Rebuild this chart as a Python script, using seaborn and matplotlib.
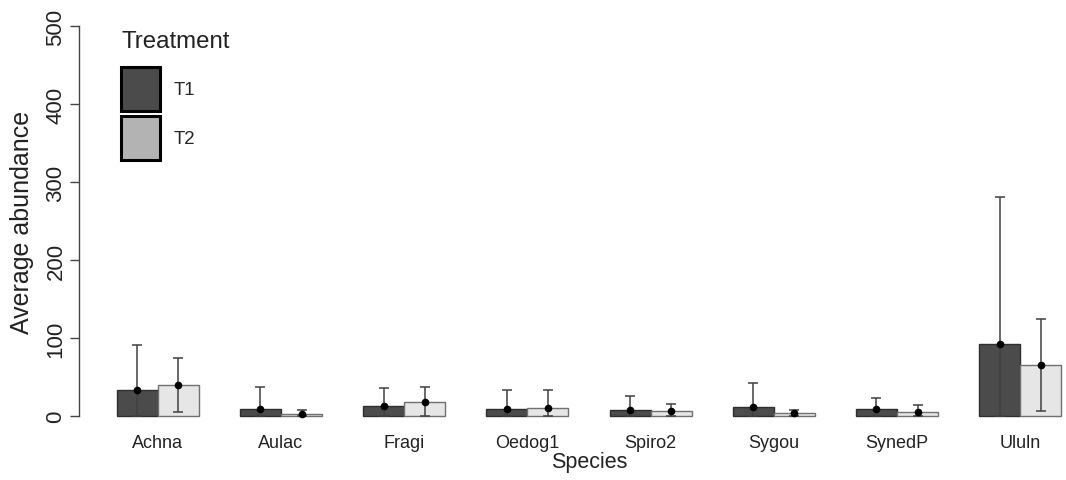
import matplotlib
matplotlib.use("Agg")
import matplotlib.pyplot as plt
import seaborn as sns
import pandas as pd
import numpy as np
from matplotlib.patches import Patch

species = ["Achna", "Aulac", "Fragi", "Oedog1", "Spiro2", "Sygou", "SynedP", "Ululn"]
treatments = ["T1", "T2"]
mean_t1 = [33, 9, 13, 9, 8, 11, 9.5, 92]
mean_t2 = [40, 2, 18, 10.5, 6, 3.5, 5, 65.5]
sd_t1 = [58, 28, 23, 24, 18, 31, 13.5, 189]
sd_t2 = [35, 6, 19, 22.5, 9, 4.5, 9, 58.5]
yticks = [0, 100, 200, 300, 400, 500]

sns.set_theme(style="white")
plt.rcParams["font.family"] = ["Liberation Sans", "DejaVu Sans"]

df = pd.DataFrame({
    "Species": species * 2,
    "Treatment": ["T1"] * len(species) + ["T2"] * len(species),
    "Mean": mean_t1 + mean_t2,
    "SD": sd_t1 + sd_t2,
})

W, H = 1066, 481
fig = plt.figure(figsize=(W / 100, H / 100), dpi=100)
ax = fig.add_axes([79 / W, (H - 432.6) / H, (1099 - 79) / W, 421.2 / H])

bar_colors = {"T1": "#4b4b4b", "T2": "#e6e6e6"}
sns.barplot(data=df, x="Species", y="Mean", hue="Treatment", order=species,
            hue_order=treatments, palette=bar_colors, errorbar=None,
            width=2 / 3, gap=0, saturation=1, ax=ax, legend=False)

edge_cols = ["#2e2e2e", "#707070"]
for cont, tr, ec in zip(ax.containers, treatments, edge_cols):
    sub = df[df["Treatment"] == tr].set_index("Species").loc[species]
    xs = []
    for p in cont.patches:
        p.set_edgecolor(ec)
        p.set_linewidth(1.0)
        xs.append(p.get_x() + p.get_width() / 2)
    xs = np.array(xs)
    m = sub["Mean"].values
    s = sub["SD"].values
    lower = np.minimum(s, m)  # clip at zero
    ax.errorbar(xs, m, yerr=[lower, s], fmt="none", ecolor="#404040",
                elinewidth=1.1, capsize=3.5, capthick=1.1, zorder=3)
    ax.plot(xs, m, "o", color="black", markersize=4.5, zorder=4)

ax.set_xlim(-0.64, 7.64)
ax.set_ylim(-20, 520)
ax.set_yticks(yticks)
ax.set_yticklabels([str(v) for v in yticks], rotation=90, va="center", fontsize=16)
ax.tick_params(axis="y", left=True, length=6.5, width=1, color="#444444", pad=2.5)
ax.tick_params(axis="x", bottom=False, length=0, pad=2, labelsize=13)
for lab in ax.get_xticklabels():
    lab.set_color("#222222")
for lab in ax.get_yticklabels():
    lab.set_color("#222222")
for sp in ["top", "right", "bottom"]:
    ax.spines[sp].set_visible(False)
ax.spines["left"].set_bounds(0, 500)
ax.spines["left"].set_color("#444444")
ax.spines["left"].set_linewidth(1)
ax.set_xlabel("Species", fontsize=15.5, color="#222222", labelpad=0)
ax.set_ylabel("Average abundance", fontsize=18, color="#222222", labelpad=8)
ax.grid(False)

handles = [Patch(facecolor="#4b4b4b", edgecolor="black", linewidth=2.2, label="T1"),
           Patch(facecolor="#b3b3b3", edgecolor="black", linewidth=2.2, label="T2")]
leg = ax.legend(handles=handles, loc="upper left",
                bbox_to_anchor=(121 / W, 1 - 68 / H), bbox_transform=fig.transFigure,
                frameon=False, fontsize=13.4,
                handlelength=2.1, handleheight=3.26, labelspacing=0.25,
                handletextpad=0.75, borderaxespad=0, borderpad=0)
fig.text(121 / W, 1 - 42 / H, "Treatment", ha="left", va="center",
         fontsize=17.3, color="#222222")

fig.savefig("out.png", dpi=100)
